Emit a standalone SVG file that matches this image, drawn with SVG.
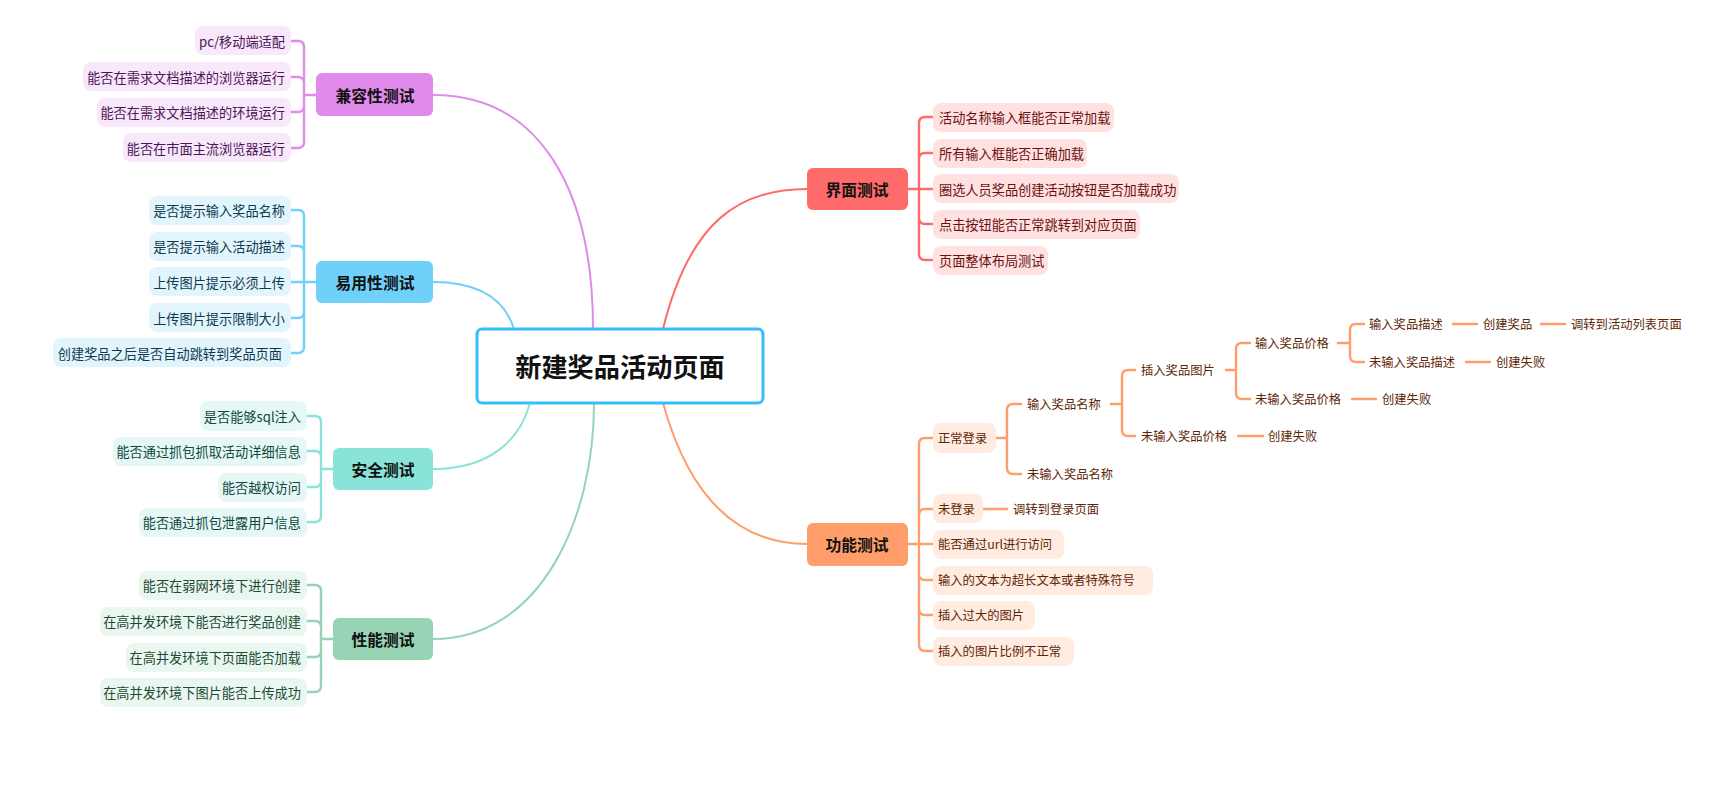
<svg xmlns="http://www.w3.org/2000/svg" width="1725" height="805" viewBox="0 0 1725 805">
<style>
text{font-family:"Noto Sans CJK SC","Noto Sans",sans-serif;dominant-baseline:central}
.c{fill:none;stroke-width:2;stroke-linecap:round}
.b{fill:none;stroke-width:2.4;stroke-linecap:round;stroke-linejoin:round}
.nt{font-size:15.8px;font-weight:bold;fill:#111;text-anchor:middle}
.lt{font-size:13.2px}
.ot{font-size:12.3px;fill:#5e2606}
.L{text-anchor:end}
.pu{stroke:#E08BEB}.bl{stroke:#6FD0FA}.te{stroke:#89E3D8}.gr{stroke:#97D4B6}.rd{stroke:#FF6B6B}.or{stroke:#FF9E6B}
</style>
<rect width="1725" height="805" fill="#fff"/>
<g id="connectors">
<path class="c pu" d="M433,95 C540,95 593,190 593,329"/>
<path class="c bl" d="M433,282 C480,282 505,300 514,329"/>
<path class="c te" d="M433,469 C490,469 520,440 530,403"/>
<path class="c gr" d="M433,639 C540,639 594,520 594,403"/>
<path class="c rd" d="M663,329 C690,220 740,189 807,189"/>
<path class="c or" d="M663,403 C690,500 740,544 807,544"/>
<path class="b pu" d="M316,95 H304 V47 Q304,41 298,41 H291 M304,95 V83 Q304,77 298,77 H291 M304,95 V106 Q304,112 298,112 H291 M304,95 V142 Q304,148 298,148 H291"/>
<path class="b bl" d="M316,282 H304 V216 Q304,210 298,210 H291 M304,282 V252 Q304,246 298,246 H291 M304,282 H291 M304,282 V312 Q304,318 298,318 H291 M304,282 V347 Q304,353 298,353 H291"/>
<path class="b te" d="M333,469 H321 V422 Q321,416 315,416 H307 M321,469 V457 Q321,451 315,451 H307 M321,469 V481 Q321,487 315,487 H307 M321,469 V516 Q321,522 315,522 H307"/>
<path class="b gr" d="M333,639 H321 V591 Q321,585 315,585 H307 M321,639 V627 Q321,621 315,621 H307 M321,639 V651 Q321,657 315,657 H307 M321,639 V686 Q321,692 315,692 H307"/>
<path class="b rd" d="M908,189 H919 V123 Q919,117 925,117 H933 M919,189 V159 Q919,153 925,153 H933 M919,189 H933 M919,189 V218 Q919,224 925,224 H933 M919,189 V254 Q919,260 925,260 H933"/>
<path class="b or" d="M908,544 H919 V444 Q919,438 925,438 H933 M919,544 V515 Q919,509 925,509 H933 M919,544 H933 M919,544 V574 Q919,580 925,580 H933 M919,544 V609 Q919,615 925,615 H933 M919,544 V645 Q919,651 925,651 H933"/>
<path class="b or" d="M996,438 H1007 V410 Q1007,404 1013,404 H1021 M1007,438 V468 Q1007,474 1013,474 H1021"/>
<path class="b or" d="M1111,404 H1122 V376 Q1122,370 1128,370 H1135 M1122,404 V430 Q1122,436 1128,436 H1135"/>
<path class="b or" d="M1226,370 H1236 V349 Q1236,343 1242,343 H1250 M1236,370 V393 Q1236,399 1242,399 H1250"/>
<path class="b or" d="M1338,343 H1350 V330 Q1350,324 1356,324 H1364 M1350,343 V356 Q1350,362 1356,362 H1364"/>
<path class="b or" d="M1453,324 H1477 M1541,324 H1565 M1466,362 H1490 M1352,399 H1376 M1238,436 H1263 M983,509 H1007"/>
</g>
<g id="center">
<rect x="477" y="329" width="286" height="74" rx="5" fill="#fff" stroke="#35BEFA" stroke-width="3"/>
<text x="620" y="366" font-size="26.2" font-weight="bold" text-anchor="middle" fill="#111">新建奖品活动页面</text>
</g>
<g id="n-compat">
<rect x="316" y="73" width="117" height="43" rx="6" fill="#E08BEB"/>
<text class="nt" x="375" y="95">兼容性测试</text>
<g fill="#F9E7FB"><rect x="195" y="26" width="96" height="29" rx="8"/><rect x="83" y="62" width="208" height="29" rx="8"/><rect x="97" y="98" width="194" height="29" rx="8"/><rect x="123" y="133" width="168" height="29" rx="8"/></g>
<g class="lt L" fill="#4a1656"><text x="285" y="41">pc/移动端适配</text><text x="285" y="77">能否在需求文档描述的浏览器运行</text><text x="285" y="112">能否在需求文档描述的环境运行</text><text x="285" y="148">能否在市面主流浏览器运行</text></g>
</g>
<g id="n-usability">
<rect x="316" y="261" width="117" height="42" rx="6" fill="#6FD0FA"/>
<text class="nt" x="375" y="282">易用性测试</text>
<g fill="#E2F5FD"><rect x="149" y="196" width="142" height="29" rx="8"/><rect x="149" y="232" width="142" height="29" rx="8"/><rect x="149" y="267" width="142" height="29" rx="8"/><rect x="149" y="303" width="142" height="29" rx="8"/><rect x="53" y="338" width="238" height="29" rx="8"/></g>
<g class="lt L" fill="#0d3a4e"><text x="285" y="210">是否提示输入奖品名称</text><text x="285" y="246">是否提示输入活动描述</text><text x="285" y="282">上传图片提示必须上传</text><text x="285" y="318">上传图片提示限制大小</text><text x="282" y="353">创建奖品之后是否自动跳转到奖品页面</text></g>
</g>
<g id="n-security">
<rect x="333" y="448" width="100" height="42" rx="6" fill="#89E3D8"/>
<text class="nt" x="383" y="469">安全测试</text>
<g fill="#E5F8F5"><rect x="200" y="401" width="107" height="30" rx="8"/><rect x="113" y="437" width="194" height="29" rx="8"/><rect x="218" y="473" width="89" height="29" rx="8"/><rect x="139" y="508" width="168" height="29" rx="8"/></g>
<g class="lt L" fill="#0f4740"><text x="301" y="416">是否能够sql注入</text><text x="301" y="451">能否通过抓包抓取活动详细信息</text><text x="301" y="487">能否越权访问</text><text x="301" y="522">能否通过抓包泄露用户信息</text></g>
</g>
<g id="n-performance">
<rect x="333" y="618" width="100" height="42" rx="6" fill="#97D4B6"/>
<text class="nt" x="383" y="639">性能测试</text>
<g fill="#EAF6F0"><rect x="139" y="571" width="168" height="29" rx="8"/><rect x="100" y="607" width="207" height="29" rx="8"/><rect x="126" y="643" width="181" height="29" rx="8"/><rect x="100" y="678" width="207" height="29" rx="8"/></g>
<g class="lt L" fill="#1c4a33"><text x="301" y="585">能否在弱网环境下进行创建</text><text x="301" y="621">在高并发环境下能否进行奖品创建</text><text x="301" y="657">在高并发环境下页面能否加载</text><text x="301" y="692">在高并发环境下图片能否上传成功</text></g>
</g>
<g id="n-ui">
<rect x="807" y="168" width="101" height="42" rx="6" fill="#FF6B6B"/>
<text class="nt" x="857" y="189">界面测试</text>
<g fill="#FFE1E1"><rect x="933" y="103" width="181" height="29" rx="8"/><rect x="933" y="139" width="154" height="29" rx="8"/><rect x="933" y="174" width="246" height="29" rx="8"/><rect x="933" y="210" width="207" height="29" rx="8"/><rect x="933" y="246" width="115" height="29" rx="8"/></g>
<g class="lt" fill="#6a1010"><text x="939" y="117">活动名称输入框能否正常加载</text><text x="939" y="153">所有输入框能否正确加载</text><text x="939" y="189">圈选人员奖品创建活动按钮是否加载成功</text><text x="939" y="224">点击按钮能否正常跳转到对应页面</text><text x="939" y="260">页面整体布局测试</text></g>
</g>
<g id="n-function">
<rect x="807" y="523" width="101" height="43" rx="6" fill="#FF9E6B"/>
<text class="nt" x="857" y="544">功能测试</text>
<g fill="#FFEBE0"><rect x="933" y="423" width="63" height="30" rx="8"/><rect x="933" y="494" width="50" height="29" rx="8"/><rect x="933" y="530" width="131" height="29" rx="8"/><rect x="933" y="566" width="220" height="29" rx="8"/><rect x="933" y="601" width="102" height="29" rx="8"/><rect x="933" y="637" width="141" height="29" rx="8"/></g>
<g class="ot"><text x="938" y="438">正常登录</text><text x="938" y="509">未登录</text><text x="938" y="544">能否通过url进行访问</text><text x="938" y="580">输入的文本为超长文本或者特殊符号</text><text x="938" y="615">插入过大的图片</text><text x="938" y="651">插入的图片比例不正常</text></g>
<g class="ot"><text x="1013" y="509">调转到登录页面</text><text x="1027" y="404">输入奖品名称</text><text x="1027" y="474">未输入奖品名称</text><text x="1141" y="370">插入奖品图片</text><text x="1141" y="436">未输入奖品价格</text><text x="1268" y="436">创建失败</text><text x="1255" y="343">输入奖品价格</text><text x="1255" y="399">未输入奖品价格</text><text x="1382" y="399">创建失败</text><text x="1369" y="324">输入奖品描述</text><text x="1483" y="324">创建奖品</text><text x="1571" y="324">调转到活动列表页面</text><text x="1369" y="362">未输入奖品描述</text><text x="1496" y="362">创建失败</text></g>
</g>
</svg>
